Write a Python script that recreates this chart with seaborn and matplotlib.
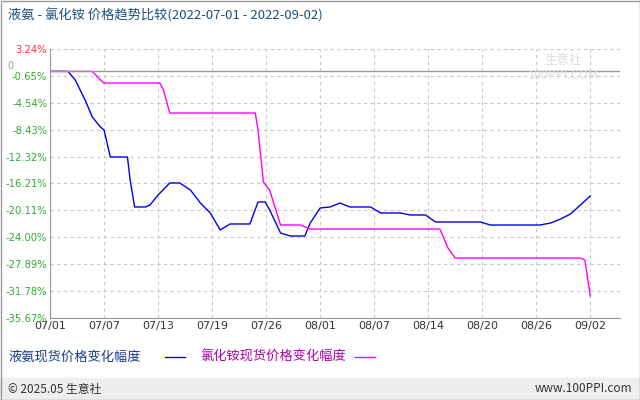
import matplotlib
matplotlib.use("Agg")
import matplotlib.pyplot as plt
import seaborn as sns
import pandas as pd
from matplotlib.lines import Line2D
from matplotlib.patches import Rectangle

plt.rcParams["font.family"] = ["Noto Sans CJK SC", "DejaVu Sans"]

x_labels = ["07/01", "07/07", "07/13", "07/19", "07/26", "08/01", "08/07", "08/14", "08/20", "08/26", "09/02"]
y_ticks = [3.24, -0.65, -4.54, -8.43, -12.32, -16.21, -20.11, -24.00, -27.89, -31.78, -35.67]

nh3_x = [0, 2, 2.8, 3.9, 4.7, 5.6, 6, 6.7, 6.9, 8.6, 8.9, 9.4, 10.6, 11.1, 12, 13.3, 14.4, 15.6, 16.7, 17.8,
         18.9, 20, 22.2, 23.1, 23.9, 24.4, 25.6, 26.7, 28.3, 28.9, 30, 31.1, 32.2, 33.3, 35.6, 36.7, 38.9, 40,
         41.7, 42.8, 47.8, 48.9, 54.4, 55.6, 56.7, 57.8, 58.9, 60]
nh3_y = [0, 0, -1.24, -4.14, -6.6, -8.04, -8.48, -12.38, -12.38, -12.38, -15.71, -19.61, -19.61, -19.33, -17.88,
         -16.14, -16.14, -17.16, -19.04, -20.48, -22.94, -22.07, -22.07, -18.89, -18.89, -20.05, -23.38, -23.81,
         -23.81, -21.93, -19.76, -19.61, -19.04, -19.61, -19.61, -20.48, -20.48, -20.77, -20.77, -21.78, -21.78,
         -22.22, -22.22, -21.93, -21.35, -20.63, -19.33, -18.02]
nh4cl_x = [0, 4.7, 5.6, 6, 12.2, 12.6, 13.3, 22.8, 23.1, 23.7, 24.4, 25.6, 27.8, 28.9, 43.3, 44.2, 45, 58.9, 59.4, 60]
nh4cl_y = [0, 0, -1.24, -1.68, -1.68, -2.69, -6.02, -6.02, -8.5, -16.0, -17.2, -22.22, -22.22, -22.8, -22.8,
           -25.55, -27.0, -27.0, -27.28, -32.49]

df1 = pd.DataFrame({"x": nh3_x, "y": nh3_y})
df2 = pd.DataFrame({"x": nh4cl_x, "y": nh4cl_y})

fig = plt.figure(figsize=(6.4, 4.0), dpi=100)
ax = fig.add_axes([50/640, 1-318/400, 570/640, 269/400])
sns.lineplot(data=df1, x="x", y="y", ax=ax, color="#0000ee", lw=1, estimator=None, sort=False)
sns.lineplot(data=df2, x="x", y="y", ax=ax, color="#ff00ff", lw=1, estimator=None, sort=False)
ax.set_xlim(0, 63.3)
ax.set_ylim(-35.67, 3.24)
ax.set_xticks([i*6 for i in range(11)])
ax.set_xticklabels(x_labels, fontsize=8, family="DejaVu Sans", color="#333333")
ax.set_yticks(y_ticks)
ax.set_yticklabels([f"{v:.2f}%" for v in y_ticks], fontsize=7.2, family="DejaVu Sans")
for i, t in enumerate(ax.get_yticklabels()):
    t.set_color("#ff3333" if i == 0 else "#33aa33")
ax.tick_params(length=0, pad=2)
ax.set_xlabel(""); ax.set_ylabel("")
ax.grid(True, ls=(0, (3, 3)), color="#c8c8c8", lw=0.8)
ax.axhline(0, color="#999999", lw=1)
for s in ["top", "right"]:
    ax.spines[s].set_visible(False)
for s in ["left", "bottom"]:
    ax.spines[s].set_color("#999999")
ax.text(-0.075, 0, "0", transform=ax.get_yaxis_transform(), ha="left", va="bottom", fontsize=7,
        color="#999999", family="DejaVu Sans")
ax.text(0.9, 0.93, "生意社\n100PPI.COM", transform=ax.transAxes, ha="center", va="center",
        fontsize=9, color="#dddddd")

fig.text(8/640, 1-15/400, "液氨 - 氯化铵 价格趋势比较(2022-07-01 - 2022-09-02)", fontsize=9.5,
         color="#1a4f7a", va="center")

fig.text(8/640, 1-357/400, "液氨现货价格变化幅度", fontsize=9.5, color="#1a3a8a", va="center")
fig.add_artist(Line2D([165/640, 185/640], [1-357/400]*2, color="#0000ee", lw=1))
fig.text(200/640, 1-357/400, "氯化铵现货价格变化幅度", fontsize=9.5, color="#aa00aa", va="center")
fig.add_artist(Line2D([355/640, 375/640], [1-357/400]*2, color="#ff00ff", lw=1))

fig.add_artist(Rectangle((0, 0), 1, 22/400, transform=fig.transFigure, color="#eeeeee", zorder=0))
fig.text(8/640, 11/400, "© 2025.05 生意社", fontsize=8.5, color="#333333", va="center")
fig.text(632/640, 11/400, "www.100PPI.com", fontsize=8.5, color="#333333", va="center", ha="right")
fig.add_artist(Rectangle((0.5/640, 0.5/400), 639/640, 399/400, transform=fig.transFigure, fill=False,
                         ec="#999999", lw=1))
fig.savefig("out.png", dpi=100)
